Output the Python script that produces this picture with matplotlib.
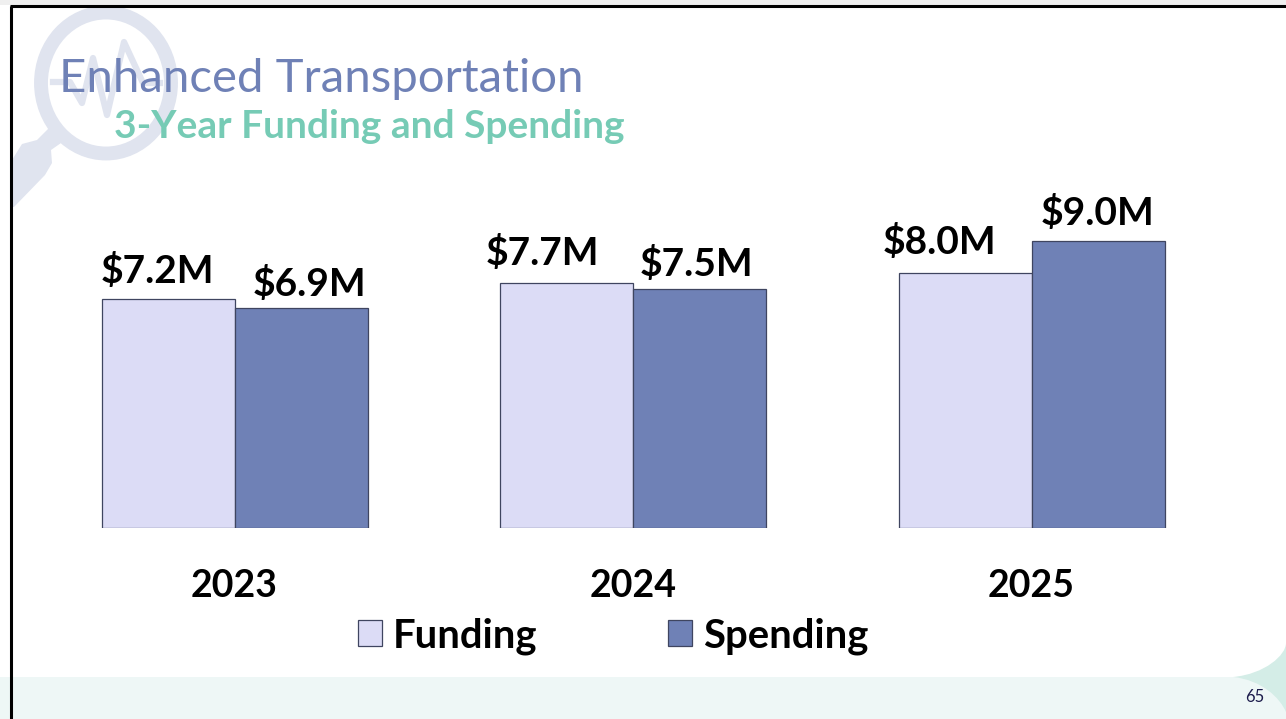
import matplotlib
matplotlib.use("Agg")
import matplotlib.pyplot as plt
import numpy as np
from matplotlib.patches import Ellipse, Rectangle, Polygon, PathPatch
from matplotlib.path import Path

years = ["2023", "2024", "2025"]
funding = [7.2, 7.7, 8.0]
spending = [6.9, 7.5, 9.0]
funding_labels = ["$7.2M", "$7.7M", "$8.0M"]
spending_labels = ["$6.9M", "$7.5M", "$9.0M"]

W, H = 1286, 719
FUND = "#DCDCF6"
SPEND = "#6F81B6"
EDGE = "#3F4560"
DECOR = "#E0E4EF"
PX = 0.72  # points per pixel at dpi 100
plt.rcParams["font.family"] = ["Lato", "Open Sans", "DejaVu Sans"]

fig = plt.figure(figsize=(W / 100, H / 100), dpi=100, facecolor="white")

# slide background in pixel coordinates
bg = fig.add_axes([0, 0, 1, 1], zorder=0)
bg.set_xlim(0, W)
bg.set_ylim(H, 0)
bg.axis("off")
bg.add_patch(Rectangle((0, 0), W, 5, fc="#EFEFEF", ec="none"))
bg.add_patch(Rectangle((0, 677), W, 42, fc="#EEF7F6", ec="none"))
curve = [Path.MOVETO, Path.CURVE4, Path.CURVE4, Path.CURVE4, Path.LINETO, Path.CLOSEPOLY]
bg.add_patch(PathPatch(Path([(1233, 677), (1265, 674), (1286, 655), (1286, 643), (1286, 677), (1233, 677)], curve),
                       fc="#D4EDE7", ec="none"))
bg.add_patch(PathPatch(Path([(1233, 677), (1262, 680), (1280, 698), (1286, 712), (1286, 677), (1233, 677)], curve),
                       fc="#D4EDE7", ec="none"))
# magnifier watermark
bg.add_patch(Polygon([(12, 160), (22, 144), (37, 140), (49, 128), (61, 143), (51, 150), (52, 163), (45, 175),
                      (14, 207), (12, 207)], fc=DECOR, ec="none"))
bg.add_patch(Ellipse((106, 83), 130, 141, fc="none", ec=DECOR, lw=10))
bg.plot([53, 70, 82, 93, 107, 124, 143, 160],
        [82, 82, 103, 58, 115, 42, 83, 83], color=DECOR, lw=4.5, solid_joinstyle="round")
# slide frame
bg.plot([11, 11], [H, 5.5], color="black", lw=2.2, solid_capstyle="butt")
bg.plot([10, W], [5.5, 5.5], color="black", lw=2.2, solid_capstyle="butt")

bg.text(59, 78.5, "Enhanced Transportation", fontsize=34, color="#6F81B6", va="center", ha="left")
bg.text(114, 127, "3-Year Funding and Spending", fontsize=28, color="#76CBB5", fontweight="bold",
        va="center", ha="left")
bg.text(1255, 697, "65", fontsize=12, color="#1C1C4C", va="center", ha="center")

# chart axes
left, right, bottom, top = 35.25, 1230.75, 528, 209.5
ax = fig.add_axes([left / W, 1 - bottom / H, (right - left) / W, (bottom - top) / H], zorder=1)
ax.patch.set_alpha(0)
x = np.arange(len(years))
bw = 133 / 398.5
b1 = ax.bar(x - bw / 2, funding, bw, color=FUND, edgecolor=EDGE, lw=0.9, label="Funding")
b2 = ax.bar(x + bw / 2, spending, bw, color=SPEND, edgecolor=EDGE, lw=0.9, label="Spending")
ax.set_xlim(-0.5, 2.5)
ax.set_ylim(0, 10)
ax.set_yticks([])
ax.set_xticks(x, years, fontsize=27, fontweight="bold", color="black")
ax.tick_params(axis="x", length=0, pad=29.5)
for s in ax.spines.values():
    s.set_visible(False)

# hand-placed label offsets from each bar's top centre, in pixels
fund_dx, fund_dy = [-11, -24, -26], [28, 30, 31]
spend_dx, spend_dy = [8, -3, 0], [24.5, 25, 28.5]
for bars, labels, dxs, dys in [(b1, funding_labels, fund_dx, fund_dy), (b2, spending_labels, spend_dx, spend_dy)]:
    for rect, lab, dx, dy in zip(bars, labels, dxs, dys):
        ax.annotate(lab, (rect.get_x() + rect.get_width() / 2, rect.get_height()),
                    xytext=(dx * PX, dy * PX), textcoords="offset points",
                    ha="center", va="center", fontsize=28, fontweight="bold", color="black", annotation_clip=False)

ax.legend(loc="center", bbox_to_anchor=(613 / W, 1 - 636 / H), bbox_transform=fig.transFigure, ncol=2,
          frameon=False, prop={"weight": "bold", "size": 28.8},
          handlelength=0.6, handleheight=0.6, columnspacing=3.25, handletextpad=0.28)

fig.savefig("out.png", dpi=100)
